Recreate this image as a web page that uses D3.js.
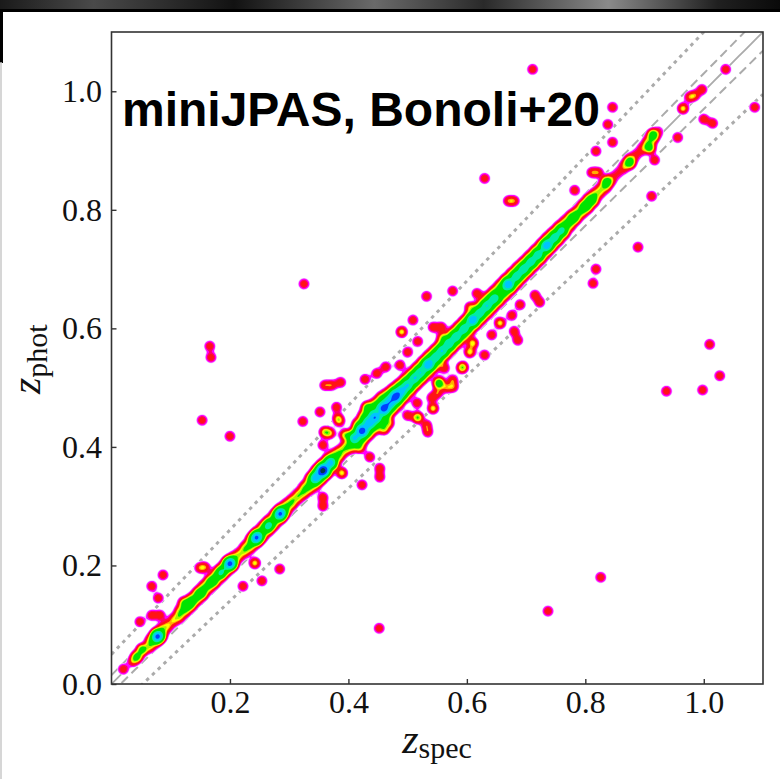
<!DOCTYPE html>
<html>
<head>
<meta charset="utf-8">
<script src="https://cdn.jsdelivr.net/npm/d3@7"></script>
<style>
  body { margin: 0; background: #fff; }
  svg { display: block; }
</style>
</head>
<body>
<div id="chart"></div>
<script>
// tick values
const xTicks = [0.2, 0.4, 0.6, 0.8, 1.0];
const yTicks = [0.0, 0.2, 0.4, 0.6, 0.8, 1.0];

// main sequence, binned in zspec: [zspec, zphot, count, half width of zphot spread]
const ridge = [
  [0.065, 0.068, 2.6, 0.010], [0.075, 0.078, 3.0, 0.011], [0.085, 0.088, 2.6, 0.010],
  [0.095, 0.098, 1.4, 0.006], [0.105, 0.108, 1.4, 0.006], [0.115, 0.118, 2.6, 0.010],
  [0.125, 0.128, 2.8, 0.010], [0.135, 0.138, 2.6, 0.010], [0.145, 0.148, 2.8, 0.010],
  [0.155, 0.158, 3.0, 0.011], [0.165, 0.168, 2.8, 0.010], [0.175, 0.178, 3.0, 0.011],
  [0.185, 0.188, 3.0, 0.011], [0.195, 0.198, 3.2, 0.011], [0.205, 0.207, 2.8, 0.010],
  [0.215, 0.217, 1.6, 0.007], [0.225, 0.227, 2.2, 0.008], [0.235, 0.237, 3.2, 0.011],
  [0.245, 0.247, 3.6, 0.012], [0.255, 0.257, 3.4, 0.012], [0.265, 0.267, 3.4, 0.012],
  [0.275, 0.277, 3.4, 0.012], [0.285, 0.287, 3.6, 0.012], [0.295, 0.297, 2.8, 0.010],
  [0.305, 0.307, 2.2, 0.008], [0.315, 0.317, 2.0, 0.008], [0.325, 0.327, 2.6, 0.010],
  [0.335, 0.338, 3.6, 0.013], [0.345, 0.348, 4.6, 0.016], [0.355, 0.358, 5.0, 0.016],
  [0.365, 0.368, 4.6, 0.016], [0.375, 0.378, 3.6, 0.013], [0.385, 0.388, 2.4, 0.009],
  [0.395, 0.398, 2.0, 0.008], [0.405, 0.410, 4.0, 0.015], [0.415, 0.421, 6.5, 0.022],
  [0.425, 0.432, 8.0, 0.025], [0.435, 0.443, 8.0, 0.026], [0.445, 0.452, 8.0, 0.025],
  [0.455, 0.462, 8.0, 0.025], [0.465, 0.470, 7.5, 0.023], [0.475, 0.480, 7.0, 0.021],
  [0.485, 0.489, 6.4, 0.020], [0.495, 0.499, 5.8, 0.019], [0.505, 0.509, 5.4, 0.018],
  [0.515, 0.519, 5.2, 0.018], [0.525, 0.529, 5.4, 0.018], [0.535, 0.539, 5.6, 0.018],
  [0.545, 0.549, 5.2, 0.018], [0.555, 0.559, 5.0, 0.017], [0.565, 0.569, 5.2, 0.017],
  [0.575, 0.579, 5.0, 0.017], [0.585, 0.589, 4.8, 0.017], [0.595, 0.599, 5.2, 0.017],
  [0.605, 0.609, 5.2, 0.017], [0.615, 0.619, 4.8, 0.017], [0.625, 0.629, 5.0, 0.017],
  [0.635, 0.639, 5.2, 0.017], [0.645, 0.649, 4.8, 0.017], [0.655, 0.659, 5.0, 0.017],
  [0.665, 0.669, 5.2, 0.017], [0.675, 0.679, 4.8, 0.017], [0.685, 0.689, 4.8, 0.017],
  [0.695, 0.699, 4.6, 0.016], [0.705, 0.709, 4.6, 0.016], [0.715, 0.719, 4.6, 0.016],
  [0.725, 0.729, 4.8, 0.016], [0.735, 0.740, 4.6, 0.016], [0.745, 0.750, 4.4, 0.015],
  [0.755, 0.760, 4.2, 0.015], [0.765, 0.770, 3.8, 0.014], [0.775, 0.781, 3.2, 0.012],
  [0.785, 0.791, 2.6, 0.010], [0.795, 0.801, 2.8, 0.010], [0.805, 0.811, 3.0, 0.011],
  [0.815, 0.821, 2.6, 0.010], [0.825, 0.832, 1.8, 0.008], [0.835, 0.842, 2.0, 0.009],
  [0.845, 0.852, 1.0, 0.007], [0.855, 0.862, 0.7, 0.006], [0.865, 0.872, 1.2, 0.007],
  [0.875, 0.882, 1.6, 0.008], [0.885, 0.892, 0.8, 0.006], [0.895, 0.902, 1.0, 0.007],
  [0.905, 0.912, 1.8, 0.008], [0.915, 0.922, 1.6, 0.007], [0.925, 0.932, 0.6, 0.006]
];

// densest cores on the sequence: [zspec, zphot, count]
const cores = [
  [0.078, 0.080, 9], [0.130, 0.133, 1.2], [0.150, 0.153, 1.5], [0.170, 0.173, 1.5],
  [0.185, 0.188, 2.5], [0.200, 0.203, 9], [0.245, 0.247, 8], [0.265, 0.267, 3],
  [0.285, 0.287, 8], [0.345, 0.348, 6], [0.357, 0.360, 14], [0.370, 0.373, 5],
  [0.410, 0.415, 4], [0.423, 0.427, 9], [0.435, 0.440, 5], [0.445, 0.450, 6],
  [0.460, 0.465, 9], [0.470, 0.475, 5], [0.480, 0.485, 9], [0.490, 0.494, 4],
  [0.500, 0.504, 3.2], [0.512, 0.516, 3.2], [0.522, 0.526, 3], [0.535, 0.539, 6],
  [0.547, 0.551, 3], [0.558, 0.562, 3.2], [0.570, 0.574, 3], [0.582, 0.586, 3.2],
  [0.595, 0.599, 3], [0.610, 0.614, 6], [0.622, 0.626, 3], [0.634, 0.638, 3.2],
  [0.646, 0.650, 3], [0.670, 0.674, 6], [0.684, 0.688, 3], [0.696, 0.700, 3.2],
  [0.708, 0.712, 3], [0.720, 0.724, 3], [0.735, 0.740, 6], [0.748, 0.753, 3],
  [0.760, 0.765, 2.5], [0.780, 0.786, 1.5], [0.800, 0.806, 1.5], [0.810, 0.816, 1.5]
];

// small groups next to the sequence: [zspec, zphot, count]
const lumps = [
  [0.043, 0.046, 2.5], [0.052, 0.058, 2.5],
  [0.121, 0.138, 1], [0.135, 0.140, 1], [0.242, 0.204, 1.5], [0.389, 0.356, 1.5],
  [0.360, 0.425, 1.5], [0.543, 0.465, 1.5], [0.553, 0.506, 1.5], [0.490, 0.594, 1.5],
  [0.553, 0.509, 1.5], [0.605, 0.560, 1.5], [0.610, 0.575, 1.5], [0.656, 0.609, 1.5],
  [0.431, 0.467, 1.5], [0.394, 0.420, 1.5], [0.369, 0.423, 1.2], [0.460, 0.430, 1.5],
  [0.468, 0.440, 1.3], [0.965, 0.971, 1.5], [0.914, 0.927, 2], [0.909, 0.904, 2],
  [0.836, 0.847, 2], [0.875, 0.880, 2]
];

// isolated objects: [zspec, zphot]
const outliers = [
  [0.020, 0.025], [0.036, 0.038], [0.048, 0.105], [0.068, 0.116], [0.082, 0.116],
  [0.079, 0.145], [0.068, 0.165], [0.087, 0.184], [0.149, 0.196], [0.158, 0.197],
  [0.284, 0.194], [0.222, 0.165], [0.254, 0.174],
  [0.360, 0.504], [0.372, 0.504], [0.387, 0.509], [0.352, 0.459], [0.323, 0.443],
  [0.382, 0.449], [0.428, 0.514], [0.463, 0.535], [0.487, 0.538], [0.448, 0.524],
  [0.357, 0.403], [0.453, 0.364], [0.453, 0.349], [0.423, 0.336], [0.357, 0.315],
  [0.357, 0.300], [0.436, 0.383], [0.420, 0.398], [0.517, 0.449], [0.532, 0.437],
  [0.534, 0.425], [0.551, 0.491], [0.577, 0.501], [0.593, 0.535],
  [0.532, 0.654], [0.576, 0.663], [0.617, 0.659], [0.509, 0.614], [0.517, 0.578],
  [0.500, 0.560], [0.543, 0.602], [0.557, 0.602], [0.558, 0.585], [0.605, 0.636],
  [0.630, 0.555], [0.642, 0.589], [0.676, 0.622], [0.680, 0.595], [0.686, 0.580],
  [0.690, 0.640], [0.715, 0.656], [0.723, 0.644], [0.813, 0.676], [0.592, 0.533],
  [0.576, 0.513], [0.562, 0.533], [0.566, 0.500], [0.541, 0.483], [0.516, 0.474],
  [0.500, 0.453], [0.517, 0.450], [0.380, 0.467], [0.385, 0.443],
  [0.711, 1.037], [0.630, 0.853], [0.670, 0.815], [0.680, 0.815], [0.846, 0.973],
  [0.838, 0.944], [0.846, 0.914], [0.818, 0.899], [1.086, 0.973], [1.000, 0.953],
  [1.015, 0.946], [0.956, 0.922], [0.917, 0.884], [0.912, 0.823], [0.811, 0.863],
  [0.782, 0.833], [0.822, 0.863], [1.037, 1.037], [0.997, 1.003], [0.985, 0.993],
  [0.976, 0.990], [0.818, 0.700], [0.889, 0.737], [1.010, 0.573], [1.027, 0.520],
  [0.937, 0.494], [0.998, 0.496], [0.826, 0.180], [0.737, 0.123], [0.452, 0.094],
  [0.325, 0.675], [0.166, 0.570], [0.168, 0.551], [0.153, 0.445], [0.200, 0.418]
];

// outlier limits |dz|/(1+z)
const dashedFrac = 0.015;
const dottedFrac = 0.05;

// density levels (single object peak = 1) and their fills
const levels = [0.24, 0.32, 0.5, 0.7, 1.15, 1.35, 1.6, 1.9, 4.2, 6.3, 9.5, 14];
const levelColors = ["#efc6ff", "#ff00ff", "#ff0064", "#ff1414", "#ffb000", "#ffff00",
                     "#a8f400", "#00e400", "#00eca8", "#00c4ff", "#0040ff", "#04384a"];

let margin = { top: 32, left: 111.5, right: 17, bottom: 95 };
let width = 780, height = 779;
let w = width - margin.left - margin.right;
let h = height - margin.top - margin.bottom;

let svg = d3.select("#chart")
  .append("svg")
  .attr("width", width)
  .attr("height", height);

svg.append("rect").attr("width", width).attr("height", height).attr("fill", "#fff");

// photo edge on top and left
let grad = svg.append("defs").append("linearGradient").attr("id", "edge");
[[0, "#1a1a1a"], [0.12, "#4a4a4a"], [0.3, "#121212"], [0.48, "#6a6a6a"],
 [0.62, "#2a2a2a"], [0.78, "#8a8a8a"], [0.92, "#202020"], [1, "#0a0a0a"]]
  .forEach(s => grad.append("stop").attr("offset", s[0]).attr("stop-color", s[1]));
svg.append("rect").attr("width", width).attr("height", 11).attr("fill", "url(#edge)");
svg.append("rect").attr("y", 9).attr("width", width).attr("height", 3).attr("fill", "#000");
svg.append("rect").attr("y", 11).attr("width", 3).attr("height", 52).attr("fill", "#000");
svg.append("line").attr("x1", 1).attr("x2", 1).attr("y1", 62).attr("y2", height)
  .attr("stroke", "#c8c8c8").attr("stroke-width", 1.5);

let xs = d3.scaleLinear().domain([0, 1.1]).range([0, w]);
let ys = d3.scaleLinear().domain([0, 1.1]).range([h, 0]);

let g = svg.append("g").attr("transform", `translate(${margin.left}, ${margin.top})`);

g.append("clipPath").attr("id", "plotclip")
  .append("rect").attr("width", w).attr("height", h);

let plot = g.append("g").attr("clip-path", "url(#plotclip)");

// reference lines
let zz = d3.range(0, 1.1001, 0.01);
let line = d3.line().x(d => xs(d[0])).y(d => ys(d[1]));
let refLines = [
  { f: 0, dash: null, sw: 1.8 },
  { f: dashedFrac, dash: "9,5", sw: 2 }, { f: -dashedFrac, dash: "9,5", sw: 2 },
  { f: dottedFrac, dash: "3.5,4.5", sw: 3 }, { f: -dottedFrac, dash: "3.5,4.5", sw: 3 }
];
refLines.forEach(r => {
  plot.append("path")
    .attr("d", line(zz.map(z => [z, z + r.f * (1 + z)])))
    .attr("fill", "none")
    .attr("stroke", "#ababab")
    .attr("stroke-width", r.sw)
    .attr("stroke-dasharray", r.dash);
});

// density grid from the objects
let nx = Math.ceil(w), ny = Math.ceil(h);
let grid = new Float64Array(nx * ny);
let kernel = 3.5;

function erf(x) {
  let s = Math.sign(x); x = Math.abs(x);
  let t = 1 / (1 + 0.3275911 * x);
  let y = 1 - (((((1.061405429 * t - 1.453152027) * t) + 1.421413741) * t - 0.284496736) * t + 0.254829592) * t * Math.exp(-x * x);
  return s * y;
}

// count spread evenly over zphot +/- half, smoothed by the kernel
function addObject(zs, zp, count, half) {
  let px = xs(zs), py = ys(zp);
  let hp = half * (ys(0) - ys(1));
  let k2 = kernel * kernel;
  let r = Math.ceil(3.2 * kernel);
  let i0 = Math.max(0, Math.floor(px - r)), i1 = Math.min(nx - 1, Math.ceil(px + r));
  let j0 = Math.max(0, Math.floor(py - hp - r)), j1 = Math.min(ny - 1, Math.ceil(py + hp + r));
  let sq = Math.SQRT2 * kernel;
  for (let j = j0; j <= j1; j++) {
    let dy = j + 0.5 - py;
    let fy = hp < 0.3 ? Math.exp(-dy * dy / (2 * k2))
      : 0.5 * (erf((dy + hp) / sq) - erf((dy - hp) / sq)) * Math.sqrt(2 * Math.PI) * kernel / (2 * hp);
    if (fy < 1e-5) continue;
    for (let i = i0; i <= i1; i++) {
      let dx = i + 0.5 - px;
      grid[j * nx + i] += count * fy * Math.exp(-dx * dx / (2 * k2));
    }
  }
}
ridge.forEach(d => addObject(d[0], d[1], d[2], d[3]));
cores.forEach(d => addObject(d[0], d[1], d[2], 0));
lumps.forEach(d => addObject(d[0], d[1], d[2], 0));
outliers.forEach(d => addObject(d[0], d[1], 1, 0));

let contours = d3.contours().size([nx, ny]).thresholds(levels)(grid);
let path = d3.geoPath();
plot.selectAll("path.level")
  .data(contours)
  .enter()
  .append("path")
  .attr("class", "level")
  .attr("d", path)
  .attr("fill", (d, i) => levelColors[i]);

// axes with inward ticks
let xAxis = d3.axisBottom(xs).tickValues(xTicks).tickFormat(d3.format(".1f"))
  .tickSize(-5).tickPadding(6);
let yAxis = d3.axisLeft(ys).tickValues(yTicks).tickFormat(d3.format(".1f"))
  .tickSize(-5).tickPadding(9.5);

let gx = g.append("g").attr("transform", `translate(0, ${h})`).call(xAxis);
let gy = g.append("g").call(yAxis);
[gx, gy].forEach(a => {
  a.select(".domain").remove();
  a.selectAll("line").attr("stroke", "#333").attr("stroke-width", 1.4);
  a.selectAll("text").attr("font-family", "Liberation Serif, Times New Roman, serif")
    .attr("font-size", 32).attr("fill", "#111");
});

g.append("rect").attr("width", w).attr("height", h)
  .attr("fill", "none").attr("stroke", "#333").attr("stroke-width", 1.6);

// title inside the axes
g.append("text")
  .attr("x", 122 - margin.left).attr("y", 126 - margin.top)
  .attr("font-family", "Liberation Sans, Arial, sans-serif")
  .attr("font-weight", "bold").attr("font-size", 48)
  .attr("fill", "#000")
  .text("miniJPAS, Bonoli+20");

// axis labels
let xl = svg.append("text")
  .attr("x", 437).attr("y", 753)
  .attr("text-anchor", "middle")
  .attr("font-family", "Liberation Serif, Times New Roman, serif")
  .attr("fill", "#111");
xl.append("tspan").attr("font-style", "italic").attr("font-size", 42).text("z");
xl.append("tspan").attr("font-size", 30).attr("dy", 5).text("spec");

let yl = svg.append("text")
  .attr("transform", "translate(40, 394) rotate(-90)")
  .attr("font-family", "Liberation Serif, Times New Roman, serif")
  .attr("fill", "#111");
yl.append("tspan").attr("font-style", "italic").attr("font-size", 42).text("z");
yl.append("tspan").attr("font-size", 30).attr("dy", 7).text("phot");
</script>
</body>
</html>
